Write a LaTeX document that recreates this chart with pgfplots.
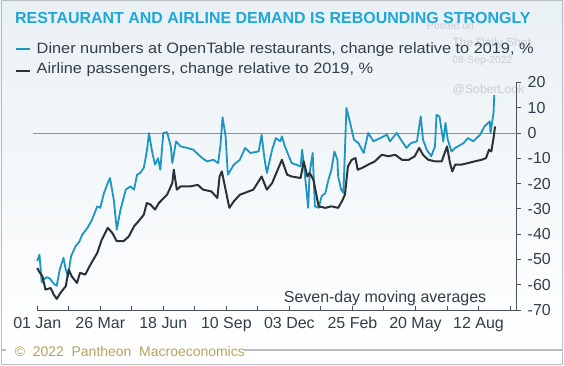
\documentclass[border=0pt]{standalone}
\usepackage{pgfplots}
\pgfplotsset{compat=1.18}
\usepackage{fontspec}
\setmainfont{Liberation Sans}
\newfontfamily\widefont[FakeStretch=1.09]{Liberation Sans}
\definecolor{dinerblue}{HTML}{1B95C3}
\definecolor{airblack}{HTML}{283237}
\definecolor{titleblue}{HTML}{1EA7D8}
\definecolor{txt}{HTML}{333E48}
\definecolor{footer}{HTML}{B3A45C}
\definecolor{zerogray}{HTML}{8C9196}
\definecolor{axgray}{HTML}{4A5258}
\definecolor{framegray}{HTML}{B8BEC2}
\definecolor{bgtop}{HTML}{E9F0F4}
\definecolor{wm}{HTML}{C8CED2}

\pgfplotstableread{
x y
0 -50.7
3 -48.1
6 -59
8 -58
13 -57
17 -57.6
22 -59.6
26 -60.4
30 -54
35 -49.4
38 -54
41 -56.7
45 -48.8
51 -44.8
56 -43
60 -40.2
67 -37.5
73 -34.3
80 -29
84 -29.6
89 -23.7
94 -19.8
97 -17.8
102 -26.4
106 -38.2
111 -30.3
118 -22.4
124 -21.1
129 -22.4
133 -16.5
137 -15.8
142 -13.8
146 -7.3
149 0
153 -7.3
157 -12.5
161 -10
164 -14.5
168 0
173 0.3
178 -5.3
180 -11.9
185 -3.3
191 -5.3
200 -5.9
208 -6.6
217 -9.2
226 -11.2
235 -10.6
241 -11.9
244 -5.3
247 6.2
251 -1.3
254 -16.5
262 -12.5
270 -10.6
277 -5.9
284 -7.9
295 -7.3
299 -0.7
303 -10.6
306 -15.8
313 -6.6
318 -2
324 -3.3
326 -1.3
330 -5.3
339 -11.9
351 -13.2
353 -6.6
356 -14.5
361 -29.6
363 -15.8
367 -7.9
370 -29
375 -29.6
379 -25
384 -23.7
388 -18.5
392 -14.5
396 -7.3
400 -10.6
401 -17.2
405 -22.4
408 -23.7
412 9.9
417 4
422 -2.6
428 -4
435 -7.9
441 0
448 -3.3
457 -2
466 -0.7
470 -3.3
479 0
486 -3.3
492 -5.9
498 -4
506 -3.3
511 6.6
514 -2.6
519 -6.6
525 -9.2
530 -5.3
532 7.2
536 6.5
541 -3.3
544 4
547 -2.6
552 -7.3
557 -5.9
568 -4
574 -2
581 -3.3
590 -0.7
596 2.6
603 4.6
604 0
608 7.9
609 15.1
}\diner

\pgfplotstableread{
x y
0 -53.4
3 -55
7 -56.7
11 -61.9
18 -61.3
22 -63.9
26 -65.6
31 -63.2
38 -60.6
42 -54
46 -56.7
53 -59.3
57 -55.3
64 -56
71 -52
80 -47.4
86 -42.2
94 -37.5
100 -39.5
106 -42.8
115 -42.8
122 -40.9
129 -36.9
135 -34.9
142 -32.3
146 -27.7
151 -28.3
157 -30.3
162 -27.7
173 -24.4
180 -19.8
182 -14.5
186 -22.4
191 -21.1
204 -21.1
214 -20.5
221 -22.4
232 -23.1
240 -25.7
243 -17.2
246 -15.2
251 -22.4
256 -29.6
262 -27
270 -24.4
288 -22.4
299 -17.2
306 -22.4
313 -19.8
326 -10.6
333 -16.5
339 -17.2
351 -17.8
355 -11.2
360 -17.2
363 -15.8
368 -18.5
375 -29
384 -29.6
392 -29
401 -29.6
406 -27
410 -24.4
414 -13.2
419 -10.6
424 -9.9
427 -14.5
433 -13.8
441 -12.5
450 -11.2
459 -8.6
468 -9.2
477 -8.6
486 -10.6
495 -10.6
503 -9.2
509 -5.9
514 -8.6
521 -10.6
530 -11.2
539 -11.2
546 -5.3
550 -11.9
553 -15.2
557 -12.5
565 -12.5
574 -11.9
583 -11.2
592 -10.6
598 -9.9
602 -6.6
605 -7.3
608 -2
610 2.6
}\airline

\begin{document}
\begin{tikzpicture}[x=1pt,y=1pt]
% background and frame
\shade[top color=bgtop, bottom color=white] (0,15.3) rectangle (564,366);
\fill[white] (0,0) rectangle (564,15.3);
\draw[framegray, line width=1pt] (0.5,0.5) rectangle (563.5,365.5);
\draw[framegray, line width=1.2pt] (0,15.3) -- (5,15.3);
\draw[framegray, line width=1.2pt] (244,15.3) -- (564,15.3);
\node[anchor=base west, inner sep=0pt, font=\fontsize{14}{16}\selectfont, text=footer] at (14,9) {©\ \ 2022\ \ Pantheon\ \ Macroeconomics};
% watermarks (behind text)
\node[anchor=base west, inner sep=0pt, font=\fontsize{10.5}{12}\selectfont, text=wm] at (427,336) {Posted on};
\node[anchor=base west, inner sep=0pt, font=\fontsize{12}{14}\selectfont, text=wm] at (452.5,319.3) {The Daily Shot};
\node[anchor=base west, inner sep=0pt, font=\fontsize{10.4}{12}\selectfont, text=wm] at (452.5,302) {08-Sep-2022};
\node[anchor=base west, inner sep=0pt, font=\fontsize{12.3}{14}\selectfont, text=wm] at (452.7,272) {@SoberLook};
% title
\node[anchor=base west, inner sep=0pt, font=\fontsize{16}{18}\selectfont\bfseries, text=titleblue] at (14.4,342) {RESTAURANT AND AIRLINE DEMAND IS REBOUNDING STRONGLY};
% legend
\draw[dinerblue, line width=2.5pt] (15,317) -- (29.5,317);
\node[anchor=base west, inner sep=0pt, font=\widefont\fontsize{15}{17}\selectfont, text=txt] at (36,312.7) {Diner numbers at OpenTable restaurants, change relative to 2019, \%};
\draw[airblack, line width=2.5pt] (15,295) -- (29.5,295);
\node[anchor=base west, inner sep=0pt, font=\widefont\fontsize{15}{17}\selectfont, text=txt] at (36,292) {Airline passengers, change relative to 2019, \%};
% note
\node[anchor=base west, inner sep=0pt, font=\fontsize{16}{18}\selectfont, text=txt] at (283.7,63.3) {Seven-day moving averages};

\begin{axis}[
  at={(36.7pt,55.3pt)}, anchor=south west,
  scale only axis, width=480.6pt, height=228.1pt,
  xmin=0, xmax=639, ymin=-70, ymax=20,
  axis x line=bottom, axis y line=right,
  axis line style={-, axgray, line width=1pt},
  tick align=inside,
  major tick length=4pt,
  xtick={0,42,...,630},
  xticklabels={01 Jan,,26 Mar,,18 Jun,,10 Sep,,03 Dec,,25 Feb,,20 May,,12 Aug,},
  ytick={-70,-60,...,20},
  yticklabels={-70,-60,-50,-40,-30,-20,-10,0,10,20},
  xtick style={axgray, line width=1pt},
  ytick style={axgray, line width=1pt, xshift=4pt},
  ticklabel style={font=\fontsize{16}{18}\selectfont, text=txt},
  xticklabel style={yshift=-3.5pt},
  yticklabel style={anchor=west, xshift=7.4pt},
  clip=false,
]
\draw[zerogray, line width=1pt] (axis cs:-5.3,0) -- (axis cs:639,0);
\addplot[dinerblue, line width=1.8pt, line join=round, no markers] table[x=x,y=y] {\diner};
\addplot[airblack, line width=2pt, line join=round, no markers] table[x=x,y=y] {\airline};
\end{axis}
\end{tikzpicture}
\end{document}
